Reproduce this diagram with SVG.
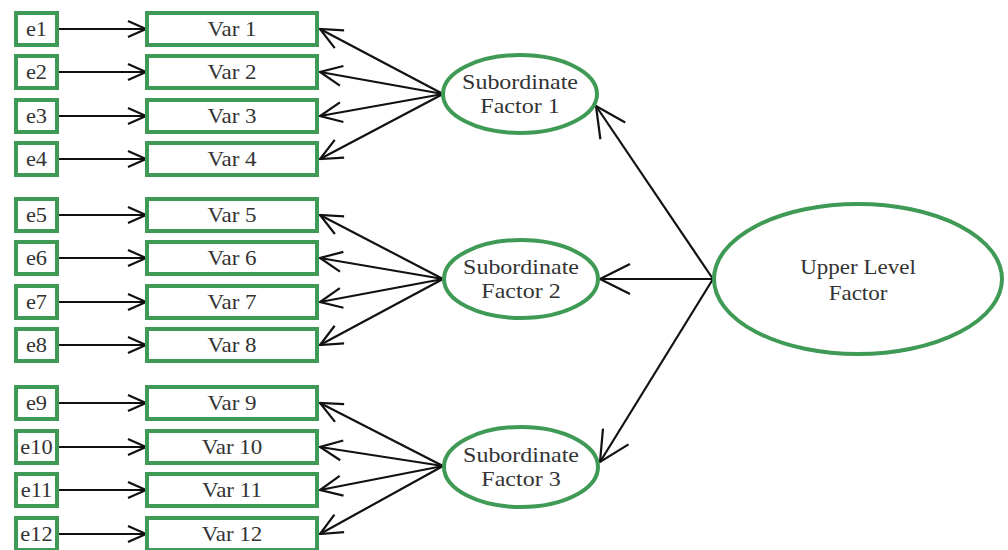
<svg xmlns="http://www.w3.org/2000/svg" width="1008" height="550" viewBox="0 0 1008 550">
<style>
.box{fill:#fff;stroke:#3f9a55;stroke-width:4}
.ell{fill:#fff;stroke:#3f9a55;stroke-width:4}
.t{font-size:20px;fill:#333;text-anchor:middle}
.c line{stroke:#111;stroke-width:2.2}
.s{marker-end:url(#ahs)}
.m{marker-end:url(#ahm)}
.l{marker-end:url(#ahl)}
</style>
<defs>
<marker id="ahs" viewBox="0 0 20 20" refX="19" refY="10" markerWidth="20" markerHeight="20" markerUnits="userSpaceOnUse" orient="auto">
<path d="M1,2 L19,10 L1,18" fill="none" stroke="#111" stroke-width="2.2"/>
</marker>
<marker id="ahm" viewBox="0 0 24 24" refX="23" refY="12" markerWidth="24" markerHeight="24" markerUnits="userSpaceOnUse" orient="auto">
<path d="M1,2 L23,12 L1,22" fill="none" stroke="#111" stroke-width="2.2"/>
</marker>
<marker id="ahl" viewBox="0 0 32 32" refX="31" refY="16" markerWidth="32" markerHeight="32" markerUnits="userSpaceOnUse" orient="auto">
<path d="M1,1 L31,16 L1,31" fill="none" stroke="#111" stroke-width="2.2"/>
</marker>
</defs>
<rect width="1008" height="550" fill="#fff"/>
<g class="c" id="connectors">
<line class="s" x1="58" y1="29" x2="146" y2="29"/>
<line class="s" x1="58" y1="72" x2="146" y2="72"/>
<line class="s" x1="58" y1="116" x2="146" y2="116"/>
<line class="s" x1="58" y1="159" x2="146" y2="159"/>
<line class="s" x1="58" y1="215" x2="146" y2="215"/>
<line class="s" x1="58" y1="258" x2="146" y2="258"/>
<line class="s" x1="58" y1="302" x2="146" y2="302"/>
<line class="s" x1="58" y1="345" x2="146" y2="345"/>
<line class="s" x1="58" y1="403" x2="146" y2="403"/>
<line class="s" x1="58" y1="447" x2="146" y2="447"/>
<line class="s" x1="58" y1="490" x2="146" y2="490"/>
<line class="s" x1="58" y1="534" x2="146" y2="534"/>
<line class="m" x1="443" y1="94" x2="320" y2="29"/>
<line class="m" x1="443" y1="94" x2="320" y2="72"/>
<line class="m" x1="443" y1="94" x2="320" y2="116"/>
<line class="m" x1="443" y1="94" x2="320" y2="159"/>
<line class="m" x1="443" y1="279" x2="320" y2="215"/>
<line class="m" x1="443" y1="279" x2="320" y2="258"/>
<line class="m" x1="443" y1="279" x2="320" y2="302"/>
<line class="m" x1="443" y1="279" x2="320" y2="345"/>
<line class="m" x1="443" y1="466" x2="320" y2="403"/>
<line class="m" x1="443" y1="466" x2="320" y2="447"/>
<line class="m" x1="443" y1="466" x2="320" y2="490"/>
<line class="m" x1="443" y1="466" x2="320" y2="534"/>
<line class="l" x1="713" y1="279" x2="596" y2="106"/>
<line class="l" x1="713" y1="279" x2="600" y2="279"/>
<line class="l" x1="713" y1="279" x2="600" y2="462"/>
</g>
<g font-family="Liberation Serif, Times New Roman, DejaVu Serif, serif">
<g id="e1"><rect class="box" x="16" y="13" width="41" height="32"/><text class="t" transform="translate(36.5,36) scale(1.12,1)">e1</text></g>
<g id="e2"><rect class="box" x="16" y="56" width="41" height="32"/><text class="t" transform="translate(36.5,79) scale(1.12,1)">e2</text></g>
<g id="e3"><rect class="box" x="16" y="100" width="41" height="32"/><text class="t" transform="translate(36.5,123) scale(1.12,1)">e3</text></g>
<g id="e4"><rect class="box" x="16" y="143" width="41" height="32"/><text class="t" transform="translate(36.5,166) scale(1.12,1)">e4</text></g>
<g id="e5"><rect class="box" x="16" y="199" width="41" height="32"/><text class="t" transform="translate(36.5,222) scale(1.12,1)">e5</text></g>
<g id="e6"><rect class="box" x="16" y="242" width="41" height="32"/><text class="t" transform="translate(36.5,265) scale(1.12,1)">e6</text></g>
<g id="e7"><rect class="box" x="16" y="286" width="41" height="32"/><text class="t" transform="translate(36.5,309) scale(1.12,1)">e7</text></g>
<g id="e8"><rect class="box" x="16" y="329" width="41" height="32"/><text class="t" transform="translate(36.5,352) scale(1.12,1)">e8</text></g>
<g id="e9"><rect class="box" x="16" y="387" width="41" height="32"/><text class="t" transform="translate(36.5,410) scale(1.12,1)">e9</text></g>
<g id="e10"><rect class="box" x="16" y="431" width="41" height="32"/><text class="t" transform="translate(36.5,454) scale(1.12,1)">e10</text></g>
<g id="e11"><rect class="box" x="16" y="474" width="41" height="32"/><text class="t" transform="translate(36.5,497) scale(1.12,1)">e11</text></g>
<g id="e12"><rect class="box" x="16" y="518" width="41" height="32"/><text class="t" transform="translate(36.5,541) scale(1.12,1)">e12</text></g>
<g id="var1"><rect class="box" x="147" y="13" width="170" height="32"/><text class="t" transform="translate(232,36) scale(1.15,1)">Var 1</text></g>
<g id="var2"><rect class="box" x="147" y="56" width="170" height="32"/><text class="t" transform="translate(232,79) scale(1.15,1)">Var 2</text></g>
<g id="var3"><rect class="box" x="147" y="100" width="170" height="32"/><text class="t" transform="translate(232,123) scale(1.15,1)">Var 3</text></g>
<g id="var4"><rect class="box" x="147" y="143" width="170" height="32"/><text class="t" transform="translate(232,166) scale(1.15,1)">Var 4</text></g>
<g id="var5"><rect class="box" x="147" y="199" width="170" height="32"/><text class="t" transform="translate(232,222) scale(1.15,1)">Var 5</text></g>
<g id="var6"><rect class="box" x="147" y="242" width="170" height="32"/><text class="t" transform="translate(232,265) scale(1.15,1)">Var 6</text></g>
<g id="var7"><rect class="box" x="147" y="286" width="170" height="32"/><text class="t" transform="translate(232,309) scale(1.15,1)">Var 7</text></g>
<g id="var8"><rect class="box" x="147" y="329" width="170" height="32"/><text class="t" transform="translate(232,352) scale(1.15,1)">Var 8</text></g>
<g id="var9"><rect class="box" x="147" y="387" width="170" height="32"/><text class="t" transform="translate(232,410) scale(1.15,1)">Var 9</text></g>
<g id="var10"><rect class="box" x="147" y="431" width="170" height="32"/><text class="t" transform="translate(232,454) scale(1.15,1)">Var 10</text></g>
<g id="var11"><rect class="box" x="147" y="474" width="170" height="32"/><text class="t" transform="translate(232,497) scale(1.15,1)">Var 11</text></g>
<g id="var12"><rect class="box" x="147" y="518" width="170" height="32"/><text class="t" transform="translate(232,541) scale(1.15,1)">Var 12</text></g>
<g id="sub1"><ellipse class="ell" cx="520" cy="94" rx="77" ry="39"/><text class="t" transform="translate(520,89) scale(1.2,1)">Subordinate</text><text class="t" transform="translate(520,113) scale(1.2,1)">Factor 1</text></g>
<g id="sub2"><ellipse class="ell" cx="521" cy="279" rx="77" ry="39"/><text class="t" transform="translate(521,274) scale(1.2,1)">Subordinate</text><text class="t" transform="translate(521,298) scale(1.2,1)">Factor 2</text></g>
<g id="sub3"><ellipse class="ell" cx="521" cy="467" rx="77" ry="40"/><text class="t" transform="translate(521,462) scale(1.2,1)">Subordinate</text><text class="t" transform="translate(521,486) scale(1.2,1)">Factor 3</text></g>
<g id="upper"><ellipse class="ell" cx="858" cy="279" rx="144" ry="75"/><text class="t" transform="translate(858,274) scale(1.15,1)">Upper Level</text><text class="t" transform="translate(858,300) scale(1.15,1)">Factor</text></g>
</g>
</svg>
